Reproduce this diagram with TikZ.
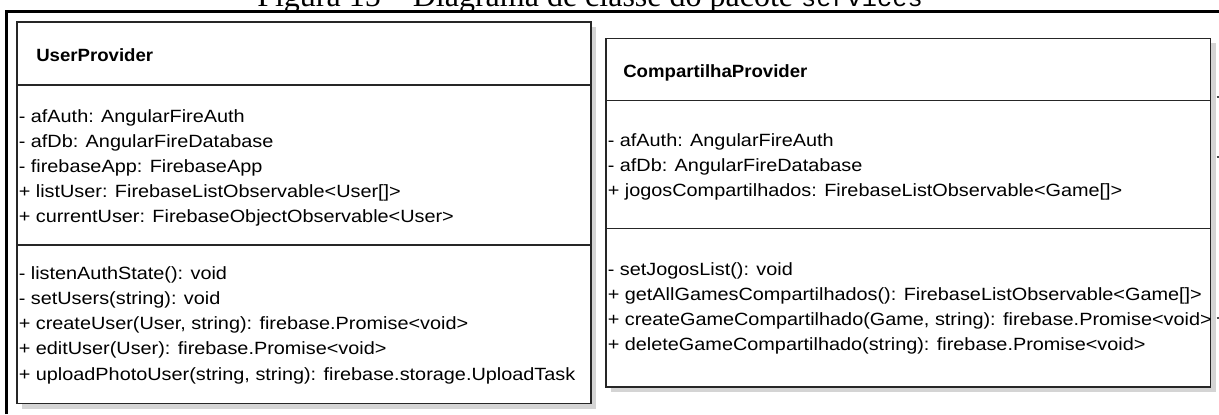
\documentclass[tikz,border=0pt]{standalone}
\usepackage{fontspec}
\newfontfamily\umlfont[FakeStretch=1.12]{Liberation Sans}
\newfontfamily\umlbf[FakeStretch=1.05]{Liberation Sans}
\newfontfamily\capserif{Liberation Serif}
\newfontfamily\capmono{Liberation Mono}
\newcommand\umltext{\umlfont\fontsize{13.3}{16}\selectfont}
\newcommand\umltitle{\umlbf\bfseries\fontsize{13.3}{16}\selectfont}
\newcommand\captext{\capserif\fontsize{24}{28}\selectfont}

\begin{document}
\begin{tikzpicture}[x=0.75pt, y=-0.75pt,
  member/.style={anchor=base west, inner sep=0pt, font=\umltext},
  classname/.style={anchor=base west, inner sep=0pt, font=\umltitle},
  frame/.style={draw=black!85, line width=0.9pt},
  shade/.style={fill=black!17}]
  \useasboundingbox[fill=white] (0,0) rectangle (1219,414);

  \node[anchor=base, inner sep=0pt, font=\captext] (cap) at (590,7)
    {Figura 15 – Diagrama de classe do pacote {\capmono\fontsize{19}{22}\selectfont services}};
  \draw[line width=2.6pt, miter limit=10] (6.5,414) -- (6.5,11.7) -- (1219,11.7);

  \fill[shade] (22,27) rectangle (596,408.5);
  \draw[frame, fill=white] (17,22) rectangle (591,403.5);
  \draw[frame] (17,85) -- (591,85);
  \draw[frame] (17,245) -- (591,245);

  \node[classname] (user) at (36,61) {UserProvider};

  \node[member] (ua1) at (18.5,122) {- afAuth: AngularFireAuth};
  \node[member] (ua2) at (18.5,147) {- afDb: AngularFireDatabase};
  \node[member] (ua3) at (18.5,172) {- firebaseApp: FirebaseApp};
  \node[member] (ua4) at (18.5,197) {+ listUser: FirebaseListObservable<User[]>};
  \node[member] (ua5) at (18.5,222) {+ currentUser: FirebaseObjectObservable<User>};

  \node[member] (um1) at (18.5,279.5) {- listenAuthState(): void};
  \node[member] (um2) at (18.5,304.5) {- setUsers(string): void};
  \node[member] (um3) at (18.5,329.5) {+ createUser(User, string): firebase.Promise<void>};
  \node[member] (um4) at (18.5,354.5) {+ editUser(User): firebase.Promise<void>};
  \node[member] (um5) at (18.5,380.5) {+ uploadPhotoUser(string, string): firebase.storage.UploadTask};

  \fill[shade] (611,43.3) rectangle (1215.5,392);
  \draw[frame, fill=white] (606,38.3) rectangle (1210.5,387);
  \draw[frame] (606,100.7) -- (1210.5,100.7);
  \draw[frame] (606,228.7) -- (1210.5,228.7);

  \node[classname] (comp) at (623,77) {CompartilhaProvider};

  \node[member] (ca1) at (607.5,146) {- afAuth: AngularFireAuth};
  \node[member] (ca2) at (607.5,171) {- afDb: AngularFireDatabase};
  \node[member] (ca3) at (607.5,196) {+ jogosCompartilhados: FirebaseListObservable<Game[]>};

  \node[member] (cm1) at (607.5,275.8) {- setJogosList(): void};
  \node[member] (cm2) at (607.5,300.8) {+ getAllGamesCompartilhados(): FirebaseListObservable<Game[]>};
  \node[member] (cm3) at (607.5,325.8) {+ createGameCompartilhado(Game, string): firebase.Promise<void>};
  \node[member] (cm4) at (607.5,350.8) {+ deleteGameCompartilhado(string): firebase.Promise<void>};

  \draw[black!70, line width=0.8pt] (1216.5,97) -- (1219,97);
  \draw[black!70, line width=0.8pt] (1216.5,157) -- (1219,157);
  \draw[black!70, line width=0.8pt] (1216.5,318) -- (1219,318);
\end{tikzpicture}
\end{document}
